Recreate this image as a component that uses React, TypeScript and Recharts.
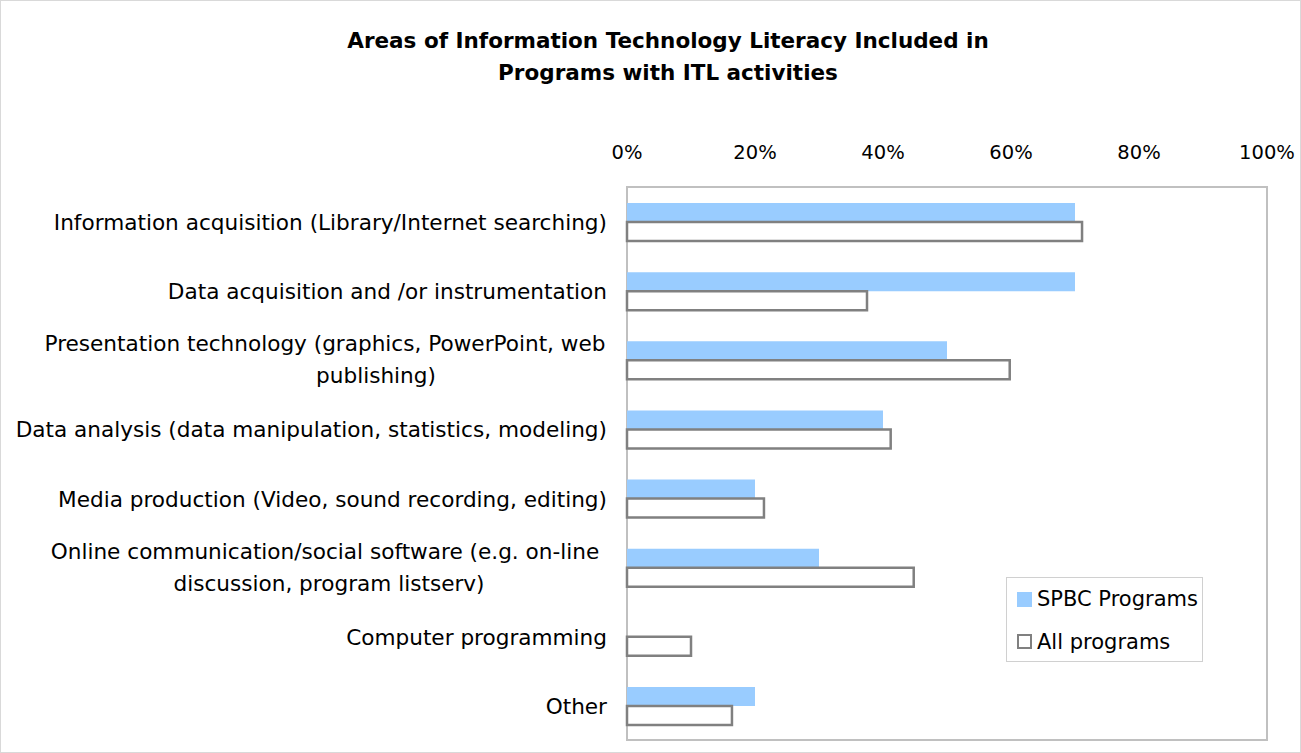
import React from "react";
import { BarChart, Bar, XAxis, YAxis, ReferenceArea } from "recharts";

const categories = [
  "Information acquisition (Library/Internet searching)",
  "Data acquisition and /or instrumentation",
  "Presentation technology (graphics, PowerPoint, web publishing)",
  "Data analysis (data manipulation, statistics, modeling)",
  "Media production (Video, sound recording, editing)",
  "Online communication/social software (e.g. on-line discussion, program listserv)",
  "Computer programming",
  "Other",
];
const spbcValues = [70, 70, 50, 40, 20, 30, 0, 20];
const allValues = [71.1, 37.5, 59.8, 41.2, 21.4, 44.8, 10, 16.4];
const xTicks = [0, 20, 40, 60, 80, 100];
const seriesNames = ["SPBC Programs", "All programs"];
const titleLines = [
  "Areas of Information Technology Literacy Included in",
  "Programs with ITL activities",
];

// how long labels wrap in the picture
const labelLines: Record<string, { text: string; dx: number }[]> = {
  [categories[2]]: [
    { text: "Presentation technology (graphics, PowerPoint, web", dx: 0 },
    { text: "publishing)", dx: 51 },
  ],
  [categories[5]]: [
    { text: "Online communication/social software (e.g. on-line", dx: 0 },
    { text: "discussion, program listserv)", dx: 4 },
  ],
};

const data = categories.map((c, i) => ({
  name: c,
  spbc: spbcValues[i],
  all: allValues[i],
}));

const FONT = "'DejaVu Sans', sans-serif";
const LABEL_SIZE = 21.6;

const YTick = (props: any) => {
  const { x, y, payload } = props;
  const lines = labelLines[payload.value];
  if (!lines) {
    return (
      <text x={x} y={y + 1} textAnchor="end" dominantBaseline="central" fontSize={LABEL_SIZE} fontFamily={FONT} fill="#000">
        {payload.value}
      </text>
    );
  }
  return (
    <g>
      {lines.map((l, i) => (
        <text
          key={i}
          x={x - 282 + l.dx}
          y={y + (i - (lines.length - 1) / 2) * 32}
          textAnchor="middle"
          dominantBaseline="central"
          fontSize={LABEL_SIZE}
          fontFamily={FONT}
          fill="#000"
        >
          {l.text}
        </text>
      ))}
    </g>
  );
};

const XTick = (props: any) => {
  const { x, payload } = props;
  return (
    <text x={x} y={152} textAnchor="middle" dominantBaseline="central" fontSize={19.5} fontFamily={FONT} fill="#000">
      {payload.value}%
    </text>
  );
};

export default function App() {
  return (
    <div
      style={{
        position: "absolute",
        left: 0,
        top: 0,
        width: 1301,
        height: 753,
        background: "#fff",
        boxSizing: "border-box",
        border: "1px solid #d9d9d9",
        fontFamily: FONT,
      }}
    >
      <div
        style={{
          position: "absolute",
          left: 0,
          top: 24,
          width: 1334,
          textAlign: "center",
          fontWeight: "bold",
          fontSize: 21.5,
          lineHeight: "32px",
          color: "#000",
        }}
      >
        {titleLines.map((t) => (
          <div key={t}>{t}</div>
        ))}
      </div>
      <BarChart
        width={1301}
        height={753}
        data={data}
        layout="vertical"
        margin={{ top: 120, right: 34, bottom: 13, left: 0 }}
        barGap={0}
        barSize={19}
        style={{ position: "absolute", left: -1, top: -1 }}
      >
        <XAxis
          type="number"
          orientation="top"
          domain={[0, 100]}
          ticks={xTicks}
          axisLine={false}
          tickLine={false}
          height={67}
          tick={<XTick />}
          interval={0}
        />
        <YAxis
          type="category"
          dataKey="name"
          width={627}
          axisLine={false}
          tickLine={false}
          tickMargin={14}
          tick={<YTick />}
          interval={0}
        />
        <ReferenceArea
          x1={0}
          x2={100}
          fill="#fff"
          fillOpacity={0}
          stroke="#c0c0c0"
          strokeWidth={2}
          ifOverflow="visible"
        />
        <Bar dataKey="spbc" name={seriesNames[0]} fill="#99ccff" isAnimationActive={false} />
        <Bar
          dataKey="all"
          name={seriesNames[1]}
          fill="#fff"
          stroke="#808080"
          strokeWidth={2.5}
          isAnimationActive={false}
        />
      </BarChart>
      <div
        style={{
          position: "absolute",
          left: 1005,
          top: 576,
          width: 197,
          height: 85,
          boxSizing: "border-box",
          border: "1px solid #d0d0d0",
          background: "#fff",
          fontSize: 21,
          color: "#000",
        }}
      >
        <div style={{ position: "absolute", left: 10, top: 14, width: 15, height: 15, background: "#99ccff" }} />
        <div style={{ position: "absolute", left: 30, top: 9, lineHeight: "24px", whiteSpace: "nowrap" }}>{seriesNames[0]}</div>
        <div
          style={{
            position: "absolute",
            left: 10,
            top: 56,
            width: 15,
            height: 15,
            boxSizing: "border-box",
            border: "2.5px solid #808080",
            background: "#fff",
          }}
        />
        <div style={{ position: "absolute", left: 30, top: 52, lineHeight: "24px", whiteSpace: "nowrap" }}>{seriesNames[1]}</div>
      </div>
    </div>
  );
}
